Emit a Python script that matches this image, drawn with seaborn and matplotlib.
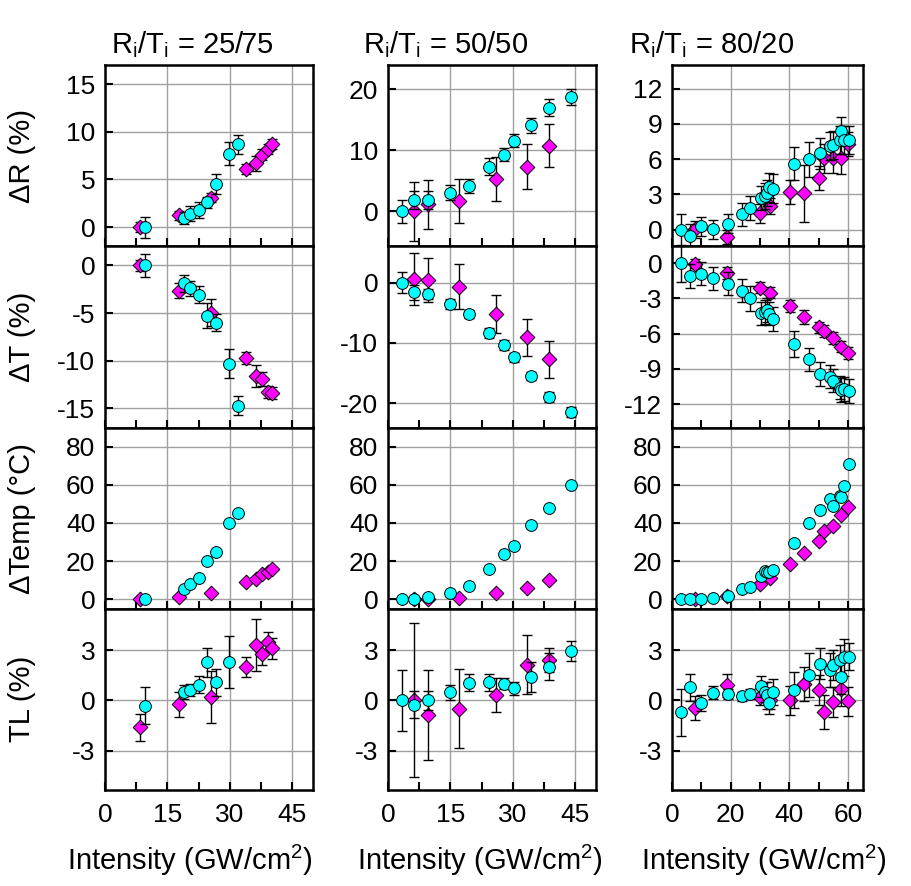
import numpy as np
import matplotlib
matplotlib.use("Agg")
import matplotlib.pyplot as plt
from matplotlib.ticker import MultipleLocator, FixedLocator
import seaborn as sns

sns.set_style("white")
plt.rcParams['font.family'] = ['Liberation Sans', 'DejaVu Sans']
plt.rcParams['axes.unicode_minus'] = False
plt.rcParams['mathtext.fontset'] = 'custom'
plt.rcParams['mathtext.rm'] = 'Liberation Sans'
plt.rcParams['mathtext.it'] = 'Liberation Sans:italic'
for k in ['text.color', 'axes.labelcolor', 'xtick.color', 'ytick.color']:
    plt.rcParams[k] = 'black'

nan = np.nan

# ---------------- Column 1: Ri/Ti = 25/75 ----------------
c1_mag_x = [8.4, 17.7, 25.4, 34.0, 36.4, 37.8, 39.2, 40.2]
c1_mag_dR = [0, 1.23, 3.1, 6.1, 6.7, 7.6, 8.2, 8.7]
c1_mag_dR_err = [0.5, 0.5, 0.5, 0.5, 0.8, 0.6, 0.5, 0.5]
c1_mag_dT = [0, -2.65, -4.95, -9.7, -11.6, -11.9, -13.3, -13.4]
c1_mag_dT_err = [0.6, 0.8, 1.4, 0.6, 1.2, 0.7, 0.6, 0.6]
c1_mag_temp = [0, 1.0, 3.3, 8.9, 10.5, 13.3, 14.4, 15.6]
c1_mag_TL = [-1.6, -0.24, 0.2, 1.97, 3.3, 2.74, 3.5, 3.1]
c1_mag_TL_err = [0.8, 0.75, 1.57, 0.6, 1.55, 0.65, 0.6, 0.6]

c1_cy_x = [9.5, 18.9, 20.4, 22.5, 24.5, 26.7, 29.8, 32.0]
c1_cy_dR = [0, 0.95, 1.4, 1.8, 2.6, 4.5, 7.7, 8.7]
c1_cy_dR_err = [1.1, 0.6, 0.8, 0.8, 0.6, 1.05, 1.2, 1.0]
c1_cy_dT = [0, -1.9, -2.4, -3.1, -5.3, -6.0, -10.3, -14.7]
c1_cy_dT_err = [1.2, 0.9, 0.8, 0.9, 1.3, 0.9, 1.5, 1.0]
c1_cy_temp = [0.2, 5.3, 7.9, 10.9, 20.0, 24.9, 39.9, 45.0]
c1_cy_TL = [-0.32, 0.5, 0.6, 0.93, 2.27, 1.07, 2.3, nan]
c1_cy_TL_err = [1.1, 0.4, 0.35, 0.5, 0.85, 0.8, 1.55, nan]

# ---------------- Column 2: Ri/Ti = 50/50 ----------------
c2_mag_x = [6.2, 9.7, 17.1, 26.0, 33.4, 38.7]
c2_mag_dR = [0, 1.2, 1.65, 5.3, 7.3, 10.8]
c2_mag_dR_err = [4.9, 4.0, 3.6, 3.6, 3.7, 3.5]
c2_mag_dT = [0.55, 0.4, -0.7, -5.2, -9.1, -12.7]
c2_mag_dT_err = [4.3, 3.6, 3.7, 3.2, 3.1, 3.1]
c2_mag_temp = [0, 0.2, 0.7, 3.0, 5.8, 10.0]
c2_mag_TL = [0, -0.87, -0.5, 0.32, 2.13, 2.4]
c2_mag_TL_err = [4.6, 2.7, 2.35, 1.0, 1.75, 0.7]

c2_cy_x = [3.3, 6.2, 9.7, 15.0, 19.5, 24.3, 27.8, 30.2, 34.4, 38.7, 44.0]
c2_cy_dR = [0, 1.87, 1.87, 3.1, 4.2, 7.3, 9.3, 11.6, 14.1, 17.0, 18.7]
c2_cy_dR_err = [1.9, 1.5, 1.5, 1.3, 1.2, 1.4, 1.1, 1.1, 1.2, 1.4, 1.3]
c2_cy_dT = [0, -1.65, -1.87, -3.6, -5.2, -8.4, -10.3, -12.4, -15.5, -19.0, -21.4]
c2_cy_dT_err = [1.8, 1.2, 0.8, 0.8, 0.7, 0.8, 0.8, 0.8, 0.7, 0.8, 0.8]
c2_cy_temp = [0, 0.3, 0.9, 3.0, 6.7, 15.8, 23.8, 27.7, 38.7, 47.8, 60.0]
c2_cy_TL = [0, -0.26, 0, 0.48, 1.05, 1.07, 1.0, 0.72, 1.39, 2.0, 2.94]
c2_cy_TL_err = [1.8, 0.8, 0.55, 0.45, 0.5, 0.5, 0.35, 0.4, 0.9, 0.8, 0.6]

# ---------------- Column 3: Ri/Ti = 80/20 ----------------
c3_mag_x = [7.8, 18.8, 30.0, 33.3, 40.1, 45.0, 50.1, 51.9, 55.0, 57.7, 59.8]
c3_mag_dR = [0.03, -0.6, 1.4, 2.0, 3.2, 3.1, 4.4, 6.06, 6.06, 6.06, 7.3]
c3_mag_dR_err = [0.7, 0.6, 0.8, 0.7, 1.0, 2.4, 1.0, 1.2, 1.2, 1.3, 1.0]
c3_mag_dT = [-0.03, -0.8, -2.07, -2.5, -3.66, -4.57, -5.47, -5.8, -6.4, -7.1, -7.66]
c3_mag_dT_err = [0.4, 0.5, 0.5, 0.5, 0.5, 0.6, 0.5, 0.5, 0.5, 0.5, 0.5]
c3_mag_temp = [0, 1.5, 8.2, 11.2, 18.4, 24.0, 30.6, 35.9, 38.2, 44.3, 48.5]
c3_mag_TL = [-0.46, 0.9, 0.22, 0, 0, 0.98, 0.64, -0.7, -0.1, 0.66, -0.06]
c3_mag_TL_err = [0.7, 0.7, 0.5, 0.5, 0.85, 1.0, 0.9, 1.0, 0.9, 1.0, 0.85]

c3_cy_x = [3.2, 6.2, 9.9, 14.1, 19.0, 23.8, 26.7, 30.3, 31.6, 32.5, 33.1, 34.5,
           41.7, 46.6, 50.3, 53.7, 54.8, 57.4, 57.7, 58.5, 60.2]
c3_cy_dR = [0, -0.5, 0.3, 0.03, 0.5, 1.3, 1.86, 2.7, 2.9, 3.1, 3.6, 3.5,
            5.6, 6.0, 6.5, 7.1, 7.2, 7.6, 8.4, 7.6, 7.6]
c3_cy_dR_err = [1.3, 1.0, 0.8, 0.8, 0.8, 1.0, 1.0, 1.0, 1.1, 1.1, 1.2, 1.2,
                1.4, 1.5, 1.3, 1.2, 1.2, 1.2, 1.2, 1.2, 1.2]
c3_cy_dT = [0, -1.08, -0.88, -1.28, -1.73, -2.33, -3.0, -4.26, -4.14, -4.0, -4.3, -4.77,
            -6.9, -8.2, -9.45, -9.67, -10.0, -10.6, -10.8, -10.7, -10.9]
c3_cy_dT_err = [1.6, 1.0, 1.0, 1.0, 1.0, 1.0, 1.1, 1.0, 1.0, 1.0, 1.0, 1.0,
                1.1, 1.0, 1.0, 1.0, 1.0, 1.0, 1.0, 1.0, 1.0]
c3_cy_temp = [0, 0, 0.35, 0.7, 1.9, 5.3, 6.5, 12.3, 14.7, 14.0, 14.4, 15.2,
              29.6, 39.9, 46.8, 52.4, 49.0, 54.1, 53.5, 59.2, 70.8]
c3_cy_TL = [-0.72, 0.77, -0.16, 0.46, 0.4, 0.24, 0.36, 0.83, 0.5, 0.3, -0.14, 0.5,
            0.62, 1.53, 2.2, 1.8, 2.13, 2.43, 1.37, 2.56, 2.6]
c3_cy_TL_err = [1.4, 0.8, 0.5, 0.4, 0.3, 0.25, 0.3, 0.6, 0.6, 0.8, 0.7, 0.8,
                1.1, 1.3, 0.9, 1.0, 0.9, 0.9, 1.0, 1.1, 0.8]

titles = ["R$_\\mathrm{i}$/T$_\\mathrm{i}$ = 25/75",
          "R$_\\mathrm{i}$/T$_\\mathrm{i}$ = 50/50",
          "R$_\\mathrm{i}$/T$_\\mathrm{i}$ = 80/20"]
row_labels = ["\u0394R (%)", "\u0394T (%)", "\u0394Temp (\u00b0C)", "TL (%)"]
x_label = "Intensity (GW/cm$^\\mathrm{2}$)"

x_ticks = [[0, 15, 30, 45], [0, 15, 30, 45], [0, 20, 40, 60]]
x_minor = [7.5, 7.5, 10]
x_lims = [(0, 50), (0, 50), (0, 65)]
y_ticks = [
    [[0, 5, 10, 15], [0, 10, 20], [0, 3, 6, 9, 12]],
    [[-15, -10, -5, 0], [-20, -10, 0], [-12, -9, -6, -3, 0]],
    [[0, 20, 40, 60, 80]] * 3,
    [[-3, 0, 3]] * 3,
]
y_lims = [
    [(-2, 17), (-5.7, 24), (-1.4, 14)],
    [(-17, 2), (-24, 6), (-14, 1.45)],
    [(-5, 90)] * 3,
    [(-5.35, 5.47)] * 3,
]

data = [
    (c1_mag_x, [(c1_mag_dR, c1_mag_dR_err), (c1_mag_dT, c1_mag_dT_err), (c1_mag_temp, None), (c1_mag_TL, c1_mag_TL_err)],
     c1_cy_x, [(c1_cy_dR, c1_cy_dR_err), (c1_cy_dT, c1_cy_dT_err), (c1_cy_temp, None), (c1_cy_TL, c1_cy_TL_err)]),
    (c2_mag_x, [(c2_mag_dR, c2_mag_dR_err), (c2_mag_dT, c2_mag_dT_err), (c2_mag_temp, None), (c2_mag_TL, c2_mag_TL_err)],
     c2_cy_x, [(c2_cy_dR, c2_cy_dR_err), (c2_cy_dT, c2_cy_dT_err), (c2_cy_temp, None), (c2_cy_TL, c2_cy_TL_err)]),
    (c3_mag_x, [(c3_mag_dR, c3_mag_dR_err), (c3_mag_dT, c3_mag_dT_err), (c3_mag_temp, None), (c3_mag_TL, c3_mag_TL_err)],
     c3_cy_x, [(c3_cy_dR, c3_cy_dR_err), (c3_cy_dT, c3_cy_dT_err), (c3_cy_temp, None), (c3_cy_TL, c3_cy_TL_err)]),
]

W, H = 912, 886
fig = plt.figure(figsize=(W / 100, H / 100), dpi=100)

col_left = [105, 388, 672]
col_px_per_unit = [208 / 50, 208 / 50, 2.935]
row_top = [65, 246.25, 427.5, 608.75]
row_h = 181.25

MAG = '#FF00FF'
CY = '#00FFFF'
FS = 19

for c in range(3):
    width_px = (x_lims[c][1] - x_lims[c][0]) * col_px_per_unit[c]
    mx, mser, cx, cser = data[c]
    for r in range(4):
        left = col_left[c] / W
        bottom = 1 - (row_top[r] + row_h) / H
        ax = fig.add_axes([left, bottom, width_px / W, row_h / H])
        ax.set_axisbelow(True)

        my, me = mser[r]
        cyv, ce = cser[r]
        if me is not None:
            ax.errorbar(mx, my, yerr=me, fmt='none', ecolor='black', elinewidth=1.0,
                        capsize=3.4, capthick=1.0, zorder=2)
        sns.scatterplot(x=mx, y=my, marker='D', s=56, color=MAG, edgecolor='black',
                        linewidth=0.7, ax=ax, zorder=3, legend=False)
        if ce is not None:
            ax.errorbar(cx, cyv, yerr=ce, fmt='none', ecolor='black', elinewidth=1.0,
                        capsize=3.4, capthick=1.0, zorder=4)
        sns.scatterplot(x=cx, y=cyv, marker='o', s=72, color=CY, edgecolor='black',
                        linewidth=0.7, ax=ax, zorder=5, legend=False)

        ax.set_xlim(*x_lims[c])
        ax.set_ylim(*y_lims[r][c])
        ax.xaxis.set_major_locator(FixedLocator(x_ticks[c]))
        ax.xaxis.set_minor_locator(MultipleLocator(x_minor[c]))
        ax.yaxis.set_major_locator(FixedLocator(y_ticks[r][c]))
        ax.grid(True, which='major', color='#a0a0a0', linewidth=1.0)
        ax.tick_params(axis='both', which='both', direction='in', length=6, width=1.5,
                       labelsize=FS, top=False, right=False, bottom=True, left=True,
                       colors='black', pad=7)
        ax.tick_params(axis='x', which='both', pad=9)
        for sp in ax.spines.values():
            sp.set_linewidth(1.8)
            sp.set_color('black')
        ax.set_xlabel('')
        ax.set_ylabel('')
        if r < 3:
            ax.tick_params(axis='x', labelbottom=False)
        else:
            ax.set_xlabel(x_label, fontsize=21)
            xc = [190, 480, 764][c]
            ax.xaxis.set_label_coords((xc - col_left[c]) / width_px, -(843 - (row_top[r] + row_h)) / row_h)
        if c == 0:
            ax.set_ylabel(row_labels[r], fontsize=21)
            ax.yaxis.set_label_coords((36 - col_left[c]) / width_px, 0.5)
        if r == 0:
            tc = [192, 446, 712][c]
            fig.text(tc / W, 1 - 45 / H, titles[c], fontsize=21, ha='center', va='center')

fig.savefig("out.png", dpi=100)
